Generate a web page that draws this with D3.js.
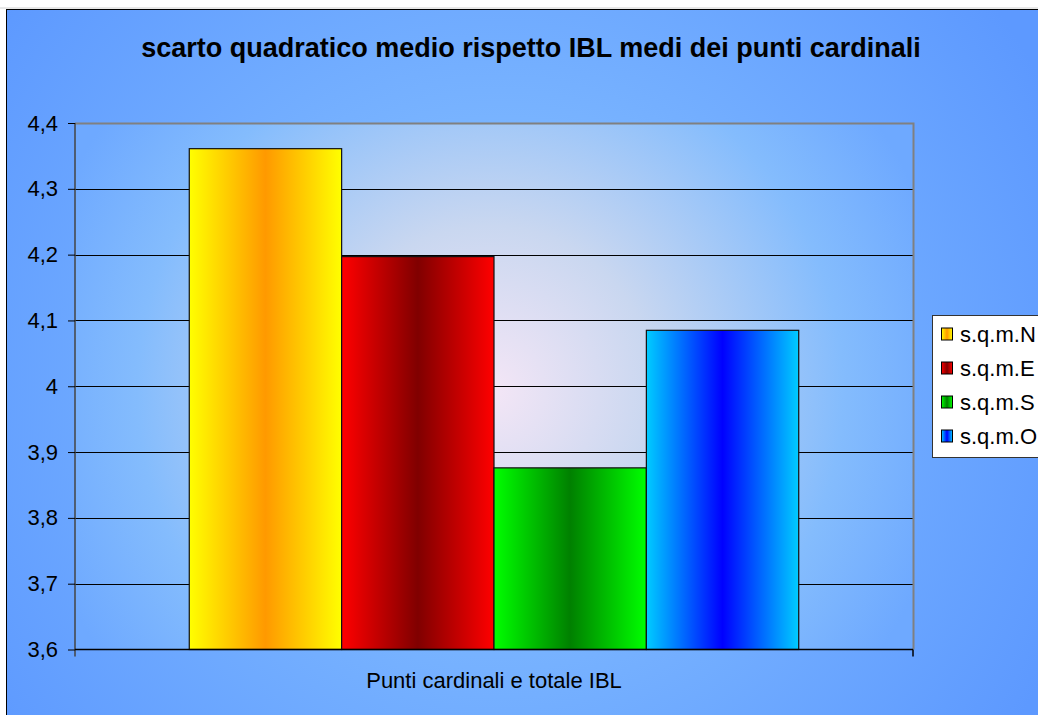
<!DOCTYPE html>
<html>
<head>
<meta charset="utf-8">
<style>
body { margin: 0; background: #ffffff; }
svg { display: block; font-family: "Liberation Sans", Arial, sans-serif; }
</style>
</head>
<body>
<div id="chart"></div>
<script src="https://cdn.jsdelivr.net/npm/d3@7/dist/d3.min.js"></script>
<script>
// values
var categories = ["Punti cardinali e totale IBL"];
var series = ["s.q.m.N", "s.q.m.E", "s.q.m.S", "s.q.m.O"];
var values = [4.361, 4.197, 3.876, 4.085];
var yTicks = [3.6, 3.7, 3.8, 3.9, 4.0, 4.1, 4.2, 4.3, 4.4];
var edgeColors = ["#ffff00", "#ff0000", "#00ff00", "#00ccff"];
var midColors = ["#ff9900", "#800000", "#008000", "#0000ff"];

var W = 1038, H = 715;
var plot = {left: 75, top: 123, right: 913, bottom: 649.5};

var svg = d3.select("#chart").append("svg")
  .attr("width", W).attr("height", H);

var defs = svg.append("defs");

// outer background
var bg = defs.append("radialGradient").attr("id", "bgGrad")
  .attr("gradientUnits", "userSpaceOnUse")
  .attr("cx", 500).attr("cy", 380).attr("r", 620);
bg.append("stop").attr("offset", "0%").attr("stop-color", "#8cc6ff");
bg.append("stop").attr("offset", "100%").attr("stop-color", "#5d99ff");

// plot area background
var pg = defs.append("radialGradient").attr("id", "plotGrad")
  .attr("gradientUnits", "userSpaceOnUse")
  .attr("cx", 490).attr("cy", 390).attr("r", 470);
pg.append("stop").attr("offset", "0%").attr("stop-color", "#f4e6f6");
pg.append("stop").attr("offset", "35%").attr("stop-color", "#c9d7f0");
pg.append("stop").attr("offset", "75%").attr("stop-color", "#84bcfd");
pg.append("stop").attr("offset", "100%").attr("stop-color", "#6ea9ff");

// bar gradients (light at edges, dark in the middle)
series.forEach(function(s, i) {
  var g = defs.append("linearGradient").attr("id", "bar" + i)
    .attr("x1", "0").attr("x2", "1").attr("y1", "0").attr("y2", "0");
  g.append("stop").attr("offset", "0%").attr("stop-color", edgeColors[i]);
  g.append("stop").attr("offset", "50%").attr("stop-color", midColors[i]);
  g.append("stop").attr("offset", "100%").attr("stop-color", edgeColors[i]);
});

svg.append("rect")
  .attr("x", 6.5).attr("y", 9.5)
  .attr("width", 1200).attr("height", 800)
  .attr("fill", "url(#bgGrad)")
  .attr("stroke", "#000").attr("stroke-width", 1);
svg.append("line")
  .attr("x1", 0).attr("x2", W).attr("y1", 8).attr("y2", 8)
  .attr("stroke", "#d0d0d0");

svg.append("rect")
  .attr("x", plot.left).attr("y", plot.top)
  .attr("width", plot.right - plot.left).attr("height", plot.bottom - plot.top)
  .attr("fill", "url(#plotGrad)");

var y = d3.scaleLinear().domain([3.6, 4.4]).range([plot.bottom, plot.top]);
var x0 = d3.scaleBand().domain(categories)
  .range([plot.left, plot.right]).paddingInner(0).paddingOuter(0.1875);
var x1 = d3.scaleBand().domain(series).range([0, x0.bandwidth()]).padding(0);

// gridlines
svg.append("g")
  .selectAll("line")
  .data(yTicks.slice(1, -1))
  .enter().append("line")
  .attr("x1", plot.left).attr("x2", plot.right)
  .attr("y1", function(d) { return Math.round(y(d)) + 0.5; })
  .attr("y2", function(d) { return Math.round(y(d)) + 0.5; })
  .attr("stroke", "#000").attr("stroke-width", 1);

// plot frame top/right
svg.append("path")
  .attr("d", "M" + plot.left + "," + (plot.top + 0.5) + "H" + (plot.right + 0.5) + "V" + plot.bottom)
  .attr("fill", "none").attr("stroke", "#808080").attr("stroke-width", 2);

// bars
svg.append("g")
  .selectAll("rect")
  .data(values)
  .enter().append("rect")
  .attr("x", function(d, i) { return x0(categories[0]) + x1(series[i]); })
  .attr("y", function(d) { return y(d); })
  .attr("width", x1.bandwidth())
  .attr("height", function(d) { return y(3.6) - y(d); })
  .attr("fill", function(d, i) { return "url(#bar" + i + ")"; })
  .attr("stroke", "#111").attr("stroke-width", 1.2);

// y axis
var yAxis = svg.append("g")
  .attr("transform", "translate(" + plot.left + ",0)")
  .call(d3.axisLeft(y).tickValues(yTicks).tickSize(7).tickPadding(10)
    .tickFormat(function(d) { return d3.format(".1f")(d).replace(".0", "").replace(".", ","); }));
yAxis.select(".domain").attr("stroke", "#444").attr("stroke-width", 1.5)
  .attr("d", "M0," + plot.top + "V" + (plot.bottom + 7));
yAxis.selectAll(".tick line").attr("stroke", "#000");
yAxis.selectAll("text").attr("font-size", 22).attr("fill", "#000")
  .attr("font-family", "Liberation Sans, Arial, sans-serif");

// x axis
var xAxis = svg.append("g")
  .attr("transform", "translate(0," + plot.bottom + ")")
  .call(d3.axisBottom(x0).tickSize(0).tickPadding(23));
xAxis.select(".domain").attr("stroke", "#000").attr("stroke-width", 1.5)
  .attr("d", "M" + plot.left + ",0H" + plot.right);
xAxis.selectAll("text").attr("font-size", 22).attr("fill", "#000")
  .attr("font-family", "Liberation Sans, Arial, sans-serif");
xAxis.append("line")
  .attr("x1", plot.right).attr("x2", plot.right).attr("y1", 0).attr("y2", 7)
  .attr("stroke", "#000").attr("stroke-width", 1.5);

// title
svg.append("text")
  .attr("x", 531).attr("y", 57)
  .attr("text-anchor", "middle")
  .attr("font-size", 27).attr("font-weight", "bold")
  .text("scarto quadratico medio rispetto IBL medi dei punti cardinali");

// legend
var legend = svg.append("g");
legend.append("rect")
  .attr("x", 932.5).attr("y", 315.5).attr("width", 200).attr("height", 142)
  .attr("fill", "#fff").attr("stroke", "#333").attr("stroke-width", 1);
var item = legend.selectAll("g.item")
  .data(series)
  .enter().append("g").attr("class", "item")
  .attr("transform", function(d, i) { return "translate(941.5," + (334 + i * 34) + ")"; });
item.append("rect")
  .attr("x", 0).attr("y", -6).attr("width", 11).attr("height", 12)
  .attr("fill", function(d, i) { return "url(#bar" + i + ")"; })
  .attr("stroke", "#000").attr("stroke-width", 1);
item.append("text")
  .attr("x", 18.5).attr("y", 7.5)
  .attr("font-size", 22)
  .text(function(d) { return d; });
</script>
</body>
</html>
